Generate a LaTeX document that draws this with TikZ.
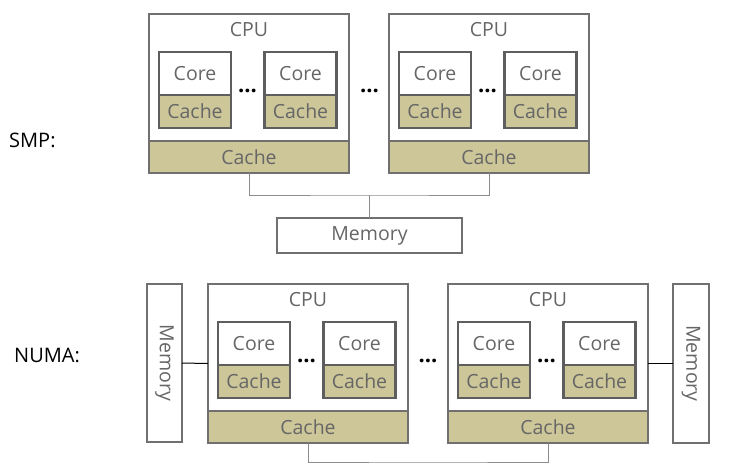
\documentclass[tikz,border=0pt]{standalone}
\usepackage{fontspec}
\setmainfont{Open Sans}
\definecolor{cachefill}{HTML}{CCC699}
\definecolor{boxline}{HTML}{707070}
\definecolor{coreline}{HTML}{5E5E5E}
\definecolor{txt}{HTML}{666666}
\definecolor{wire}{HTML}{8C8C8C}
\tikzset{
  boxtext/.style={text=txt, font=\fontsize{19.5}{22}\selectfont},
  cpubox/.style={draw=boxline, line width=2pt, fill=white, minimum width=200pt, minimum height=159pt, inner sep=0pt, outer sep=0pt},
  bandbox/.style={draw=boxline, line width=2pt, fill=cachefill, minimum width=200pt, minimum height=32pt, inner sep=0pt, outer sep=0pt, boxtext},
  corebox/.style={draw=coreline, line width=2.5pt, fill=white, minimum width=72pt, minimum height=44pt, inner sep=0pt, outer sep=0pt, boxtext},
  corecache/.style={draw=coreline, line width=2.5pt, fill=cachefill, minimum width=72pt, minimum height=33pt, inner sep=0pt, outer sep=0pt, boxtext},
  membox/.style={draw=boxline, line width=2pt, fill=white, inner sep=0pt, outer sep=0pt, boxtext},
  lbl/.style={boxtext},
  dots/.style={font=\fontsize{22}{24}\selectfont\bfseries, text=black, anchor=base, inner sep=0pt},
  bigtext/.style={font=\fontsize{20}{24}\selectfont, text=black, anchor=west, inner sep=0pt},
  wireline/.style={draw=wire, line width=1pt},
  blackline/.style={draw=black, line width=1pt}
}
\newcommand{\cpuunit}[3]{%
  \node[cpubox] (#1) at (#2+100,#3+79.5) {};
  \node[bandbox] (#1-band) at (#2+100,#3+143) {Cache};
  \node[lbl] (#1-lbl) at (#2+100,#3+16) {CPU};
  \node[corebox] (#1-k1) at (#2+46,#3+60) {Core};
  \node[corecache] (#1-k1c) at (#2+46,#3+97.5) {Cache};
  \node[corebox] (#1-k2) at (#2+151.5,#3+60) {Core};
  \node[corecache] (#1-k2c) at (#2+151.5,#3+97.5) {Cache};
  \node[dots] (#1-dots) at (#2+98.5,#3+78) {...};
}
\begin{document}
\begin{tikzpicture}[x=1pt,y=-1pt]
\useasboundingbox (0,0) rectangle (731,469);
% SMP
\node[bigtext] (smp) at (9,140) {SMP:};
\cpuunit{s1}{149}{14}
\cpuunit{s2}{389}{14}
\node[dots] (sdots) at (369.5,92) {...};
\node[membox, minimum width=185pt, minimum height=35pt] (smem) at (369.5,235.5) {Memory};
\coordinate (sj) at (369.5,195);
\draw[wireline] (s1-band.south) |- (sj) -| (s2-band.south);
\draw[wireline] (sj) -- (smem.north);
% NUMA
\node[bigtext] (numa) at (14,355) {NUMA:};
\cpuunit{n1}{208}{284}
\cpuunit{n2}{448}{284}
\node[dots] (ndots) at (428,362) {...};
\node[membox, minimum width=35pt, minimum height=158pt] (lmem) at (164.5,363) {};
\node[boxtext, rotate=-90] (lmemt) at (lmem.center) {Memory};
\node[membox, minimum width=36pt, minimum height=159pt] (rmem) at (691,363.5) {};
\node[boxtext, rotate=-90] (rmemt) at (rmem.center) {Memory};
\draw[blackline] (lmem.east) -- (n1.west);
\draw[blackline] (n2.east) -- (rmem.west |- n2.east);
\coordinate (nj) at (428,462);
\draw[wireline] (n1-band.south) |- (nj) -| (n2-band.south);
\end{tikzpicture}
\end{document}
